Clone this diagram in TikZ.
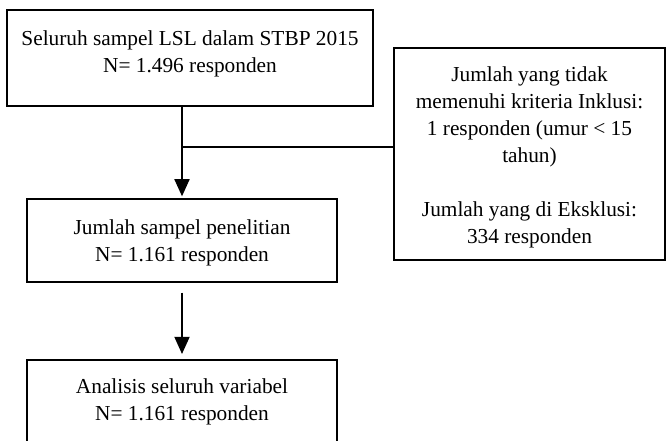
\documentclass[tikz,border=0pt]{standalone}
\usepackage{fontspec}
\setmainfont{Liberation Serif}
\usetikzlibrary{arrows.meta,positioning}

\begin{document}
\begin{tikzpicture}[
    x=0.75pt, y=-0.75pt,
    box/.style={draw, line width=0.8pt, inner sep=0pt},
    txt/.style={align=center, inner sep=0pt, font=\fontsize{16}{20.3}\selectfont},
    flow/.style={line width=2.2pt, -{Triangle[length=13pt,width=11pt]}},
    side/.style={line width=1pt}
]
\useasboundingbox (0,0) rectangle (667,440);

% Boxes
\node[box, minimum width=274.5pt, minimum height=72pt] (b1) at (190,58) {};
\node[box, minimum width=232.5pt, minimum height=62.25pt] (b2) at (182,240.5) {};
\node[box, minimum width=232.5pt, minimum height=69pt] (b3) at (182,406) {};
\node[box, minimum width=203.25pt, minimum height=159pt] (rb) at (529.5,154) {};

% Texts
\node[txt, below=16pt of b1.north] (t1) {Seluruh sampel LSL dalam STBP 2015\\N= 1.496 responden};
\node[txt, below=15.5pt of b2.north] (t2) {Jumlah sampel penelitian\\N= 1.161 responden};
\node[txt, below=14pt of b3.north] (t3) {Analisis seluruh variabel\\N= 1.161 responden};
\node[txt, below=14pt of rb.north] (t4) {Jumlah yang tidak\\memenuhi kriteria Inklusi:\\1 responden (umur < 15\\tahun)\\[20.3pt]Jumlah yang di Eksklusi:\\334 responden};

% Arrows
\draw[flow, shorten >=1.5pt] (b1.south -| b2.north) -- (b2.north);
\draw[flow, shorten <=7.5pt, shorten >=4pt] (b2.south) -- (b3.north);

% Exclusion branch
\path (b1.south -| b2.north) -- (b2.north) coordinate[pos=0.44] (mid);
\draw[side] (mid) -- (mid -| rb.west);

\end{tikzpicture}
\end{document}
